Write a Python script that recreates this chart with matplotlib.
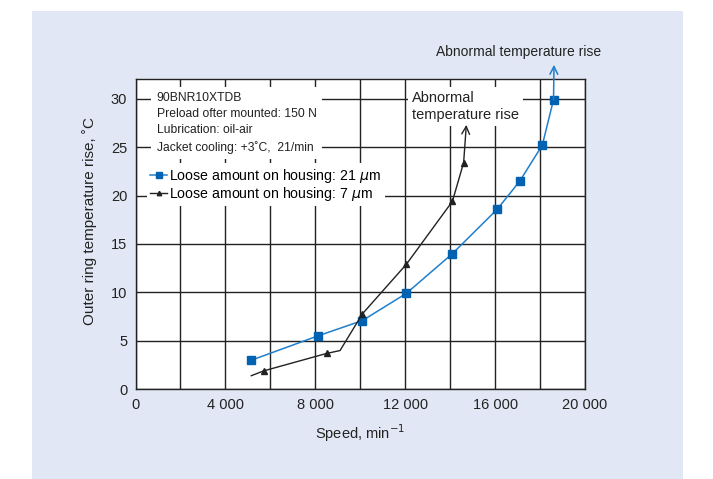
import numpy as np
import matplotlib.pyplot as plt
from matplotlib.patches import Rectangle

plt.rcParams['font.family'] = ['Liberation Sans', 'DejaVu Sans']

# loose amount 21 um (squares)
speed_21 = [5150, 8100, 10100, 12050, 14100, 16100, 17100, 18100, 18600]
temp_21 = [3.0, 5.5, 7.1, 9.9, 14.0, 18.6, 21.5, 25.2, 29.9]

# loose amount 7 um (triangles); first point and the kink carry no marker
speed_7 = [5150, 5700, 8500, 9100, 10100, 12050, 14100, 14600]
temp_7 = [1.4, 1.9, 3.7, 4.0, 7.8, 12.9, 19.4, 23.4]
marked_7 = [1, 2, 4, 5, 6, 7]

xticks = [0, 4000, 8000, 12000, 16000, 20000]
xtick_labels = ['0', '4 000', '8 000', '12 000', '16 000', '20 000']
yticks = [0, 5, 10, 15, 20, 25, 30]

blue = '#1f7fcc'
blue_mk = '#0062b0'

fig = plt.figure(figsize=(7.13, 4.79), dpi=100)
# light blue panel behind the chart
fig.patches.append(Rectangle((32 / 713, 0), 651 / 713, 468 / 479,
                             transform=fig.transFigure, facecolor='#e1e7f4',
                             edgecolor='none', zorder=-10))

ax = fig.add_axes([135.5 / 713, 1 - 389.3 / 479, 449.5 / 713, 310 / 479])
ax.set_xlim(0, 20000)
ax.set_ylim(0, 32)
ax.set_xticks(xticks)
ax.set_xticklabels(xtick_labels)
ax.set_xticks(np.arange(2000, 20000, 4000), minor=True)
ax.set_yticks(yticks)
ax.tick_params(length=0, labelsize=10.5, pad=6, colors='#222222')
ax.tick_params(which='minor', length=0)
ax.grid(True, which='both', color='#222222', lw=1)
ax.set_axisbelow(True)
for s in ax.spines.values():
    s.set_color('#222222')
    s.set_linewidth(1)

l1, = ax.plot(speed_21, temp_21, '-', color=blue, lw=1.1, marker='s', ms=6,
              mfc=blue_mk, mec=blue_mk, zorder=5,
              label='Loose amount on housing: 21 $\\mu$m')
l2, = ax.plot(speed_7, temp_7, '-', color='#222222', lw=1, marker='^', ms=4,
              markevery=marked_7, zorder=5,
              label='Loose amount on housing: 7 $\\mu$m')

# arrows marking the abnormal rise
ax.annotate('', xy=(18620, 33.5), xytext=(speed_21[-1], temp_21[-1]),
            arrowprops=dict(arrowstyle='->', color=blue, lw=1.1,
                            shrinkA=0, shrinkB=0, mutation_scale=14),
            annotation_clip=False, zorder=6)
ax.annotate('', xy=(14720, 27.3), xytext=(speed_7[-1], temp_7[-1]),
            arrowprops=dict(arrowstyle='->', color='#222222', lw=1,
                            shrinkA=0, shrinkB=0, mutation_scale=14),
            annotation_clip=False, zorder=6)

ax.text(17050, 34.8, 'Abnormal temperature rise', ha='center', va='center',
        fontsize=10, color='#222222', clip_on=False)
ax.text(12300, 29.2, 'Abnormal\ntemperature rise', ha='left', va='center',
        fontsize=10.5, color='#222222', linespacing=1.3, zorder=3,
        bbox=dict(facecolor='white', edgecolor='none', pad=3))

ax.text(950, 30.65, '90BNR10XTDB\nPreload ofter mounted: 150 N\n'
        'Lubrication: oil-air\nJacket cooling: +3\u02daC,  21/min',
        ha='left', va='top', fontsize=8.7, color='#222222', linespacing=1.45,
        zorder=3, bbox=dict(facecolor='white', edgecolor='none', pad=4))

leg = ax.legend(handles=[l1, l2], loc='upper left', bbox_to_anchor=(0.025, 0.73),
                fontsize=10.2, frameon=True, framealpha=1, edgecolor='none',
                handlelength=1.2, handletextpad=0.15, borderpad=0.25,
                labelspacing=0.02, borderaxespad=0, markerscale=0.8)
leg.get_frame().set_facecolor('white')
leg.set_zorder(4)

ax.set_xlabel('Speed, min$^{-1}$', fontsize=10.5, color='#222222', labelpad=8)
ax.set_ylabel('Outer ring temperature rise, \u02daC', fontsize=11,
              color='#222222')
ax.yaxis.set_label_coords(-0.086, 0.543)

fig.savefig('out.png', dpi=100)
